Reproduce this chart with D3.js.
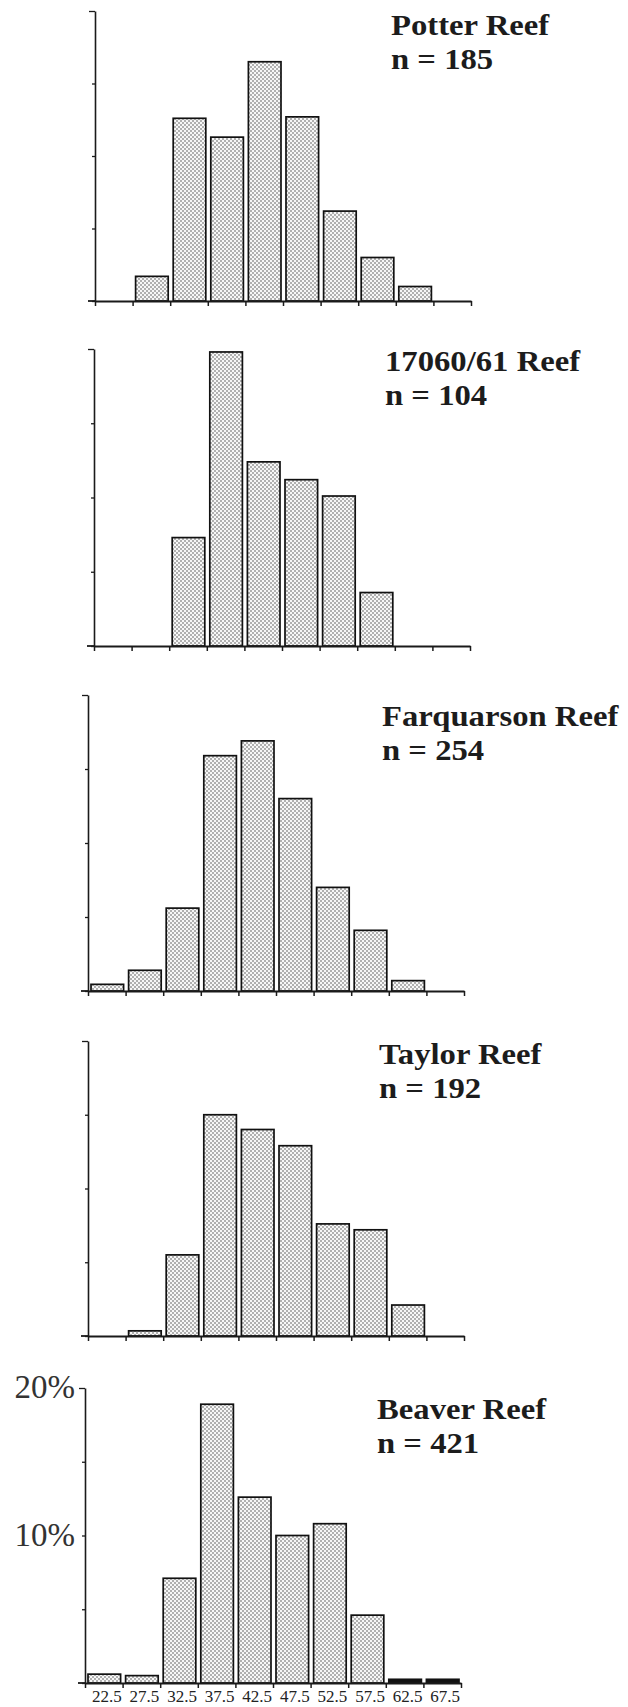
<!DOCTYPE html>
<html>
<head>
<meta charset="utf-8">
<script src="https://cdn.jsdelivr.net/npm/d3@7"></script>
<style>
  body { margin: 0; background: #fff; }
  svg { display: block; }
  .title { font-family: "Liberation Serif", "Times New Roman", serif; font-weight: bold; font-size: 30px; fill: #1c1c1c; }
  .lab { font-family: "Liberation Serif", "Times New Roman", serif; font-size: 17px; fill: #222; }
  .pct { font-family: "Liberation Serif", "Times New Roman", serif; font-size: 33px; fill: #333; }
</style>
</head>
<body>
<div id="chart"></div>
<script>
// bin midpoints (size classes)
var bins = ["22.5", "27.5", "32.5", "37.5", "42.5", "47.5", "52.5", "57.5", "62.5", "67.5"];

var reefNames = ["Potter Reef", "17060/61 Reef", "Farquarson Reef", "Taylor Reef", "Beaver Reef"];
var reefN = [185, 104, 254, 192, 421];

// percent of sample in each bin
var potter     = [0,   1.7, 12.6, 11.3, 16.5, 12.7, 6.2,  3.0, 1.0, 0];
var reef17060  = [0,   0,   7.3,  19.8, 12.4, 11.2, 10.1, 3.6, 0,   0];
var farquarson = [0.45, 1.4, 5.6, 15.9, 16.9, 13.0, 7.0,  4.1, 0.7, 0];
var taylor     = [0,   0.35, 5.5, 15.0, 14.0, 12.9, 7.6,  7.2, 2.1, 0];
var beaver     = [0.6, 0.5, 7.1,  18.9, 12.6, 10.0, 10.8, 4.6, 0.25, 0.25];

var yTicks = [0, 5, 10, 15, 20];
var yLabels = ["10%", "20%"];

var series = [potter, reef17060, farquarson, taylor, beaver];

// where each scanned panel sits on the page
var panels = [
  {x0: 95, top: 11,   base: 301,  tx: 391, ty: 35},
  {x0: 94, top: 349,  base: 646,  tx: 385, ty: 371},
  {x0: 88, top: 695,  base: 991,  tx: 382, ty: 726},
  {x0: 88, top: 1041, base: 1336, tx: 379, ty: 1064},
  {x0: 85, top: 1388, base: 1683, tx: 377, ty: 1419}
];
var axisW = 376;

var svg = d3.select("#chart").append("svg")
  .attr("width", 628)
  .attr("height", 1707);

// stipple fill like the old laser-printer shading
var defs = svg.append("defs");
var pat = defs.append("pattern")
  .attr("id", "dots")
  .attr("patternUnits", "userSpaceOnUse")
  .attr("width", 4).attr("height", 4);
pat.append("rect").attr("width", 4).attr("height", 4).attr("fill", "#f7f7f7");
pat.append("circle").attr("cx", 1).attr("cy", 1).attr("r", 0.8).attr("fill", "#555");
pat.append("circle").attr("cx", 3).attr("cy", 3).attr("r", 0.8).attr("fill", "#555");

series.forEach(function(vals, i) {
  var p = panels[i];
  var g = svg.append("g");

  var x = d3.scaleLinear().domain([20, 70]).range([p.x0, p.x0 + axisW]);
  var y = d3.scaleLinear().domain([0, 20]).range([p.base, p.top]);

  // bars
  var data = bins.map(function(b, j) { return {mid: +b, v: vals[j]}; })
    .filter(function(d) { return d.v > 0; });
  g.selectAll("rect.bar")
    .data(data)
    .enter().append("rect")
    .attr("class", "bar")
    .attr("x", function(d) { return x(d.mid - 2.5) + 3; })
    .attr("width", function(d) { return x(d.mid + 2.5) - x(d.mid - 2.5) - 5; })
    .attr("y", function(d) { return y(d.v); })
    .attr("height", function(d) { return y(0) - y(d.v); })
    // very short bars print as solid black in the original
    .attr("fill", function(d) { return (y(0) - y(d.v)) < 4 ? "#111" : "url(#dots)"; })
    .attr("stroke", "#111")
    .attr("stroke-width", 1.7);

  // x axis: ticks at bin edges
  var xa = g.append("g")
    .attr("transform", "translate(0," + p.base + ")")
    .call(d3.axisBottom(x).tickValues(d3.range(20, 75, 5)).tickSizeInner(5).tickSizeOuter(0).tickFormat(""));
  xa.select(".domain").attr("stroke", "#1a1a1a").attr("stroke-width", 1.8);
  xa.selectAll(".tick line").attr("stroke", "#1a1a1a").attr("stroke-width", 1.5);
  g.append("line")
    .attr("x1", p.x0 - 7).attr("x2", p.x0)
    .attr("y1", p.base).attr("y2", p.base)
    .attr("stroke", "#1a1a1a").attr("stroke-width", 1.8);

  // y axis
  var ya = g.append("g")
    .attr("transform", "translate(" + p.x0 + ",0)")
    .call(d3.axisLeft(y).tickValues(yTicks).tickSizeInner(3).tickSizeOuter(0)
      .tickFormat(function(d) {
        var s = d + "%";
        return (i === 4 && yLabels.indexOf(s) >= 0) ? s : "";
      }));
  ya.select(".domain").attr("stroke", "#1a1a1a").attr("stroke-width", 1.6);
  ya.selectAll(".tick line").attr("stroke", "#1a1a1a").attr("stroke-width", 1.3);
  ya.selectAll(".tick").filter(function(d) { return d === 20; })
    .select("line").attr("x2", -6);
  ya.selectAll(".tick text")
    .attr("class", "pct")
    .attr("font-family", null).attr("font-size", null)
    .attr("x", -10)
    .attr("dy", "0.3em");

  // bin labels only under the last panel
  if (i === 4) {
    g.selectAll("text.lab")
      .data(bins)
      .enter().append("text")
      .attr("class", "lab")
      .attr("x", function(d) { return x(+d) + 3; })
      .attr("y", p.base + 19)
      .attr("text-anchor", "middle")
      .text(function(d) { return d; });
  }

  // reef name and sample size (stretched a bit wider, the scan type is wide)
  g.append("text").attr("class", "title")
    .attr("transform", "translate(" + p.tx + "," + p.ty + ") scale(1.09,1)")
    .text(reefNames[i]);
  g.append("text").attr("class", "title")
    .attr("transform", "translate(" + p.tx + "," + (p.ty + 33.5) + ") scale(1.09,1)")
    .text("n = " + reefN[i]);
});
</script>
</body>
</html>
